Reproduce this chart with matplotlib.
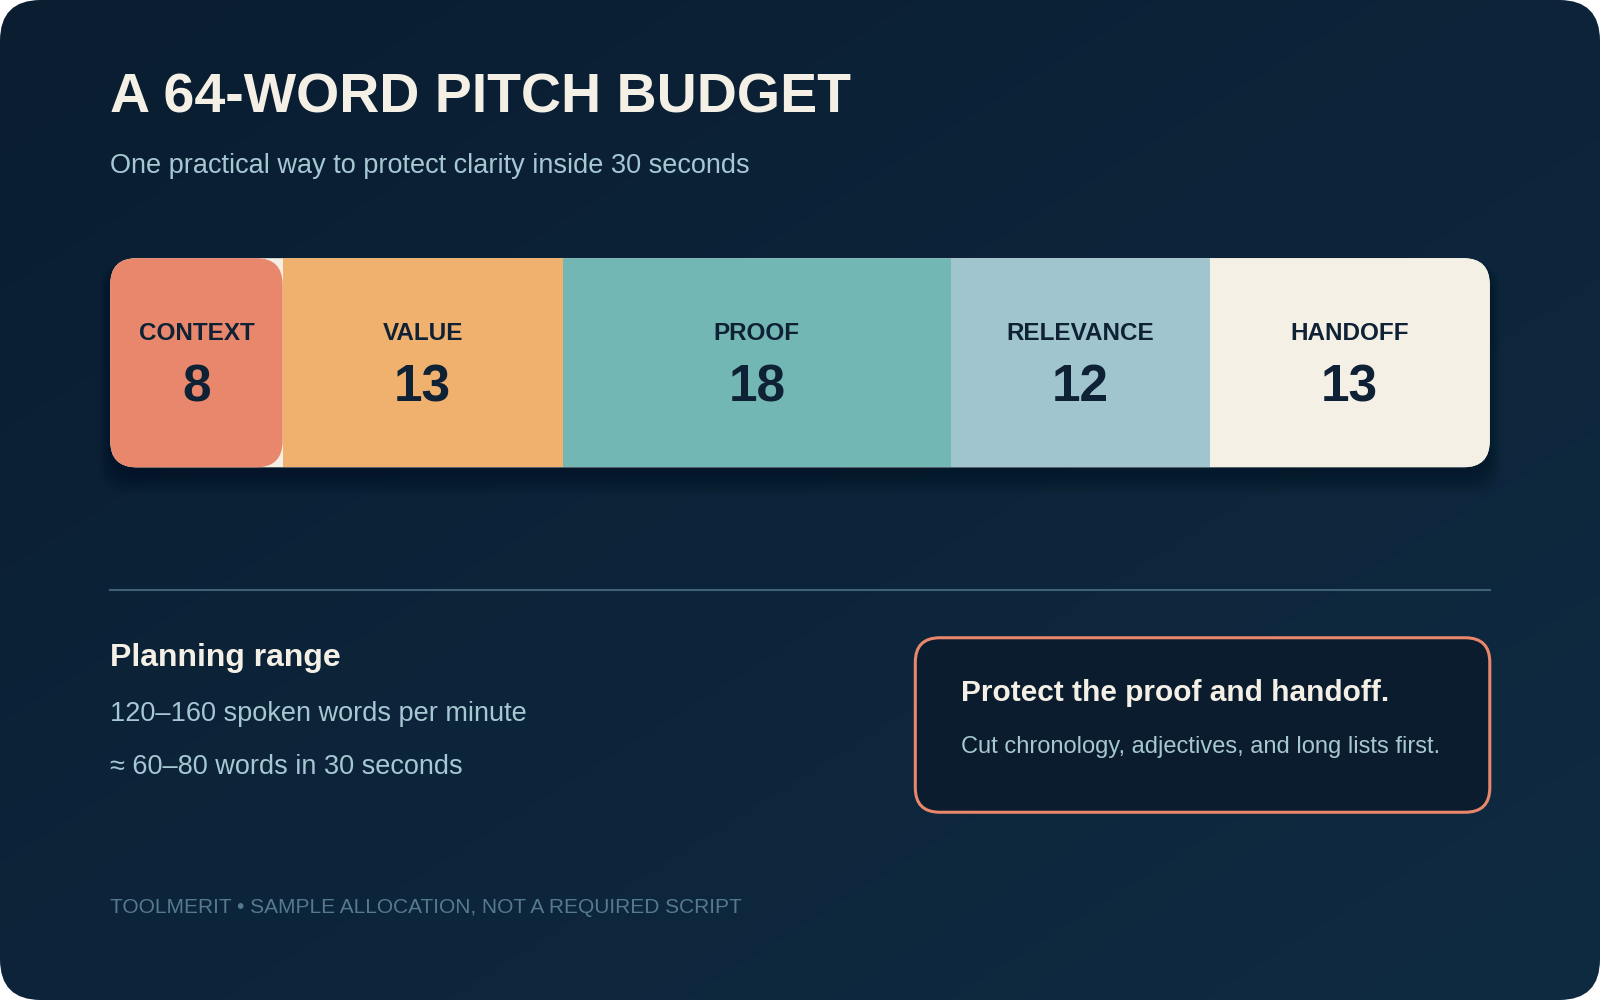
import numpy as np
import matplotlib.pyplot as plt
from matplotlib.patches import FancyBboxPatch, Rectangle

# data
segments = ["CONTEXT", "VALUE", "PROOF", "RELEVANCE", "HANDOFF"]
words = [8, 13, 18, 12, 13]
seg_colors = ["#e8876c", "#f0b06e", "#72b7b3", "#a1c5cf", "#f5f0e6"]

W, H = 1568, 980
fig = plt.figure(figsize=(16, 10), dpi=100)
ax = fig.add_axes([0, 0, 1, 1])
ax.set_xlim(0, W)
ax.set_ylim(H, 0)
ax.axis("off")

# background with rounded corners
card = FancyBboxPatch((0, 0), W, H, boxstyle="round,pad=0,rounding_size=40",
                      fc="none", ec="none")
ax.add_patch(card)
gx, gy = np.meshgrid(np.linspace(0, 1, 200), np.linspace(0, 1, 200))
grad = (gx + gy) / 2
img = ax.imshow(grad, extent=(0, W, H, 0), cmap=plt.matplotlib.colors.LinearSegmentedColormap.from_list(
    "bg", ["#0a1d31", "#0f2b42"]), aspect="auto", zorder=0)
img.set_clip_path(card)

font = "Liberation Sans"
ax.text(108, 97, "A 64-WORD PITCH BUDGET", color="#f5f0e6", fontsize=40,
        fontweight="bold", family=font, va="center")
ax.text(108, 163, "One practical way to protect clarity inside 30 seconds",
        color="#a6c8d2", fontsize=19.5, family=font, va="center")

# stacked bar
x0, x1, y0, y1 = 108, 1460, 253, 458
scale = (x1 - x0) / sum(words)
# shadow
for i in range(12):
    sh = FancyBboxPatch((x0 - i, y0 + 8 - i * 0.3), x1 - x0 + 2 * i, y1 - y0 + 2 * i,
                        boxstyle="round,pad=0,rounding_size=28", fc="#040d18",
                        ec="none", alpha=0.035, zorder=1)
    ax.add_patch(sh)
base = FancyBboxPatch((x0, y0), x1 - x0, y1 - y0, boxstyle="round,pad=0,rounding_size=26",
                      fc="#f5f0e6", ec="none", zorder=2)
ax.add_patch(base)
left = x0
for i, (name, w, c) in enumerate(zip(segments, words, seg_colors)):
    width = w * scale
    if i == 0:
        p = FancyBboxPatch((left, y0), width, y1 - y0,
                           boxstyle="round,pad=0,rounding_size=26", fc=c, ec="none", zorder=3)
        ax.add_patch(p)
    else:
        p = Rectangle((left, y0), width, y1 - y0, fc=c, ec="none", zorder=3)
        ax.add_patch(p)
        p.set_clip_path(base)
    cx = left + width / 2
    ax.text(cx, 327, name, color="#0f2135", fontsize=17.5, fontweight="bold",
            family=font, ha="center", va="center", zorder=4)
    ax.text(cx, 380, str(w), color="#0f2135", fontsize=37, fontweight="bold",
            family=font, ha="center", va="center", zorder=4)
    left += width

# divider
ax.plot([108, 1460], [578, 578], color="#3d6275", lw=1.5)

ax.text(108, 645, "Planning range", color="#f5f0e6", fontsize=23, fontweight="bold",
        family=font, va="center")
ax.text(108, 700, "120\u2013160 spoken words per minute", color="#a6c8d2",
        fontsize=19.5, family=font, va="center")
ax.text(108, 752, "\u2248 60\u201380 words in 30 seconds", color="#a6c8d2",
        fontsize=19.5, family=font, va="center")

box = FancyBboxPatch((897, 625), 563, 171, boxstyle="round,pad=0,rounding_size=24",
                     fc="#0b1c2e", ec="#e8876c", lw=2.2, zorder=2)
ax.add_patch(box)
ax.text(942, 679, "Protect the proof and handoff.", color="#f5f0e6", fontsize=21.5,
        fontweight="bold", family=font, va="center", zorder=3)
ax.text(942, 732, "Cut chronology, adjectives, and long lists first.", color="#a6c8d2",
        fontsize=17, family=font, va="center", zorder=3)

ax.text(108, 889, "TOOLMERIT \u2022 SAMPLE ALLOCATION, NOT A REQUIRED SCRIPT",
        color="#557a8e", fontsize=15, family=font, va="center")

fig.savefig("out.png", dpi=100, facecolor="white")
